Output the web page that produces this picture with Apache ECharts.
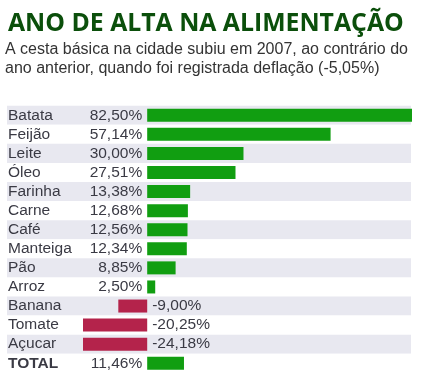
<!DOCTYPE html>
<html><head><meta charset="utf-8">
<script src="https://cdn.jsdelivr.net/npm/echarts@6/dist/echarts.min.js"></script>
<style>html,body{margin:0;padding:0;background:#fff}#c{width:421px;height:382px}</style>
</head><body><div id="c"></div>
<script>
const titleText = 'ANO DE ALTA NA ALIMENTAÇÃO';
const subtitleLines = [
  'A cesta básica na cidade subiu em 2007, ao contrário do',
  'ano anterior, quando foi registrada deflação (-5,05%)'
];
const categories = ['Batata','Feijão','Leite','Óleo','Farinha','Carne','Café','Manteiga','Pão','Arroz','Banana','Tomate','Açucar','TOTAL'];
const values = [82.50, 57.14, 30.00, 27.51, 13.38, 12.68, 12.56, 12.34, 8.85, 2.50, -9.00, -20.25, -24.18, 11.46];
const axisMin = -20;
const axisMax = 82.5;

const fmt = v => Number(v).toFixed(2).replace('.', ',') + '%';
const TOP = 105.7, ROW = 19.08, N = categories.length;
const TXT = '#3a3a44';
const FONT = 'Liberation Sans';
const posVals = values.map(v => v >= 0 ? v : '-');
const negVals = values.map(v => v < 0 ? v : '-');

const chart = echarts.init(document.getElementById('c'), null, {renderer: 'canvas'});
chart.setOption({
  animation: false,
  title: [
    {text: titleText, left: 8, top: 10, padding: 0,
     textStyle: {fontFamily: 'Open Sans', fontWeight: 'bold', fontSize: 24.8, lineHeight: 28, color: '#0b4f0b'}},
    {text: subtitleLines.join('\n'), left: 5, top: 40, padding: 0,
     textStyle: {fontFamily: FONT, fontWeight: 'normal', fontSize: 16, lineHeight: 19, color: '#333'}}
  ],
  grid: [
    {left: 7, right: 10, top: TOP, height: ROW * N},
    {left: 83, right: 9, top: TOP, height: ROW * N}
  ],
  xAxis: [
    {gridIndex: 0, type: 'value', show: false, min: 0, max: 1},
    {gridIndex: 1, type: 'value', show: false, min: axisMin, max: axisMax}
  ],
  yAxis: [
    {gridIndex: 0, type: 'category', data: categories, inverse: true,
     axisLine: {show: false}, axisTick: {show: false}, splitLine: {show: false},
     splitArea: {show: true, interval: 0, areaStyle: {color: ['#e8e8f0', '#ffffff']}},
     axisLabel: {inside: true, interval: 0, margin: 1, color: TXT, fontFamily: FONT, fontSize: 15.5,
       formatter: v => v === 'TOTAL' ? '{b|' + v + '}' : v,
       rich: {b: {fontWeight: 'bold', color: TXT, fontFamily: FONT, fontSize: 15.5}}}},
    {gridIndex: 1, type: 'category', data: categories, inverse: true, show: false}
  ],
  series: [
    {type: 'bar', xAxisIndex: 1, yAxisIndex: 1, data: posVals, barWidth: 13,
     itemStyle: {color: '#119e11'},
     label: {show: true, position: 'left', distance: 5, color: TXT, fontFamily: FONT, fontSize: 15.5,
       formatter: p => fmt(p.value)}},
    {type: 'bar', xAxisIndex: 1, yAxisIndex: 1, data: negVals, barWidth: 13, barGap: '-100%',
     itemStyle: {color: '#b4234b'},
     label: {show: true, position: 'right', distance: 5, color: TXT, fontFamily: FONT, fontSize: 15.5,
       formatter: p => fmt(p.value)}}
  ]
});
</script></body></html>
